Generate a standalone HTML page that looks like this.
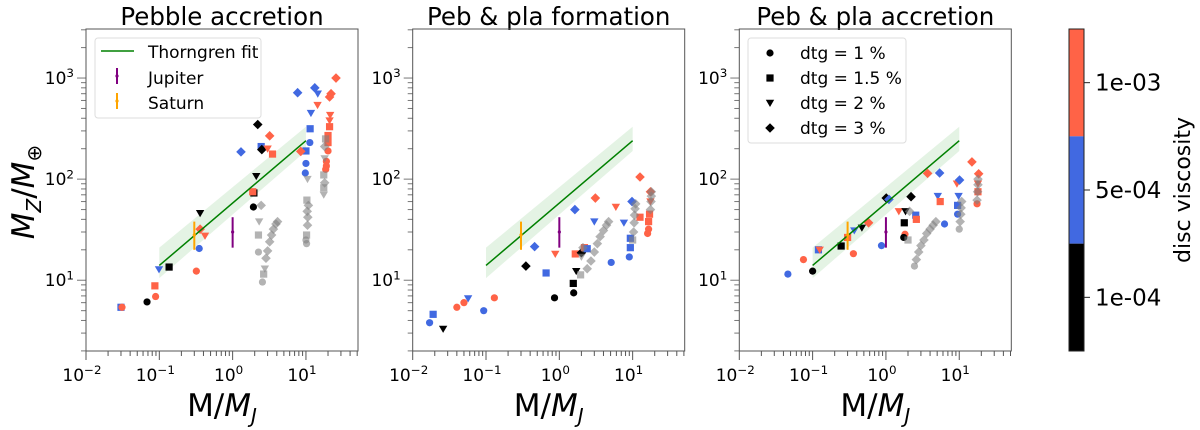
<!DOCTYPE html>
<html><head><meta charset="utf-8"><style>
html,body{margin:0;padding:0;background:#fff;}
svg{display:block;font-family:"DejaVu Sans","Liberation Sans",sans-serif;}
</style></head><body>
<svg id="fig" width="1200" height="430" viewBox="0 0 1200 430"></svg>
<script>
// ---- data ----
const panelTitles = ["Pebble accretion", "Peb & pla formation", "Peb & pla accretion"];
const xTickLabels = ["-2", "-1", "0", "1"];
const yTickLabels = ["1", "2", "3"];
const fitMass = [0.1, 10];
const fitMz = [14, 240];
const fitLow = [10.5, 190];
const fitHigh = [21, 330];
const jupiter = [1, 30, 21, 42];
const saturn = [0.3, 28, 20, 38];
// points: [mass, Mz, shape(c,s,t,d), color(k,b,r,g)]
const panel1Points = [
 [0.030,5.4,"s","b"],[0.031,5.4,"c","r"],[0.068,6.1,"c","k"],[0.089,6.9,"c","r"],[0.087,8.8,"s","r"],
 [0.099,12.8,"t","b"],[0.136,13.5,"s","k"],[0.32,12.3,"c","r"],[0.35,20.6,"c","b"],[0.36,32,"d","r"],
 [0.42,27.5,"t","r"],[0.36,46,"t","k"],[1.92,53,"c","k"],[1.95,73,"s","k"],[1.88,75,"s","r"],
 [2.1,107,"t","k"],[1.3,186,"d","b"],[2.2,347,"d","k"],[2.45,210,"s","b"],[2.5,196,"d","k"],
 [3.5,177,"s","r"],[3.2,268,"d","r"],[3.0,200,"t","r"],[7.7,716,"d","b"],[13.2,800,"d","b"],
 [14.5,700,"t","b"],[14.4,540,"t","r"],[11.7,450,"t","b"],[11.4,315,"s","b"],[11.3,230,"c","b"],
 [10,190,"s","b"],[10,143,"c","b"],[9.8,115,"c","b"],[8.5,188,"d","r"],
 [25.7,1000,"d","r"],[22,700,"d","r"],[21,650,"d","r"],[21.4,430,"t","r"],[21,380,"t","r"],
 [21,330,"s","r"],[20,270,"s","r"],[20,230,"s","r"],[20,190,"c","r"],[19,150,"c","r"],[19,135,"c","r"],[18.6,125,"c","r"],
 [2.55,9.6,"c","g"],[2.65,11.5,"s","g"],[2.25,19,"c","g"],[2.25,28,"s","g"],[2.3,38,"t","g"],[2.45,55,"d","g"],
 [2.75,13,"t","g"],[2.85,16.5,"d","g"],[3.0,19.5,"d","g"],[3.2,24,"d","g"],[3.4,28,"d","g"],[3.6,32,"d","g"],[3.9,36,"d","g"],[4.1,38,"d","g"],
 [10,25,"c","g"],[10.2,28,"s","g"],[10.5,35,"d","g"],[10.6,42,"d","g"],[10.4,48,"d","g"],[10.8,55,"d","g"],[10.3,62,"s","g"],[10.5,100,"t","g"],[10.2,23,"c","g"],
 [17.5,70,"t","g"],[17.5,82,"s","g"],[18,92,"d","g"],[17.5,110,"s","g"],[18,160,"t","g"],[18,210,"d","g"],[18.5,250,"s","g"]
];
const panel2Points = [
 [0.017,3.8,"c","b"],[0.019,4.6,"s","b"],[0.026,3.3,"t","k"],[0.040,5.4,"c","r"],[0.050,6.0,"c","r"],
 [0.057,6.6,"t","b"],[0.093,5.0,"c","b"],[0.13,6.7,"c","r"],[0.35,13.8,"d","k"],[0.46,21.5,"d","b"],
 [0.66,11.8,"s","b"],[0.86,6.7,"c","k"],[0.88,18.2,"t","r"],[1.55,9.3,"s","k"],[1.57,7.5,"c","k"],
 [1.7,12.3,"t","k"],[1.65,18.2,"s","r"],[2.0,18.7,"d","k"],[2.2,21,"s","r"],[2.4,20.5,"s","b"],
 [1.63,50,"d","b"],[3.1,65,"d","r"],[3.0,38,"t","b"],[5.9,53,"t","r"],[5.1,15,"c","b"],[7.6,37,"t","b"],
 [9.8,60,"d","b"],[9.3,26,"s","b"],[9.3,21,"s","b"],[9.0,17,"c","b"],[12.6,105,"d","r"],[12.6,42,"s","r"],
 [17.5,75,"d","r"],[17.5,60,"t","r"],[17,45,"s","r"],[16.5,38,"s","r"],[16.5,32,"c","r"],[16,29,"c","r"],
 [1.95,11.3,"s","g"],[2.1,21,"d","g"],[2.0,17,"t","g"],[2.4,13,"d","g"],[2.7,15.5,"d","g"],[3.0,19,"d","g"],
 [3.3,23,"d","g"],[3.6,27,"d","g"],[4.0,31,"d","g"],[4.4,35,"d","g"],[4.7,38,"d","g"],
 [10,25,"s","g"],[10.3,30,"d","g"],[10.5,37,"d","g"],[10.6,44,"d","g"],[10.8,51,"d","g"],[11,57,"d","g"],
 [17.5,50,"d","g"],[17.8,60,"d","g"],[18,68,"d","g"],[18,75,"d","g"]
];
const panel3Points = [
 [0.046,11.5,"c","b"],[0.075,16,"c","r"],[0.10,12.3,"c","k"],[0.12,20,"s","b"],[0.125,20,"t","r"],
 [0.245,21.8,"s","k"],[0.30,26.5,"s","r"],[0.36,18.3,"c","r"],[0.37,31,"t","b"],[0.47,33,"t","k"],
 [0.58,37,"d","r"],[0.87,22,"c","b"],[1.01,65,"d","k"],[1.1,63,"d","b"],[1.5,48,"t","r"],
 [1.85,48,"t","k"],[1.78,37,"s","k"],[1.82,28.5,"c","r"],[1.75,26.5,"c","k"],[2.2,67,"d","k"],
 [2.55,44,"s","b"],[2.6,40,"s","r"],[3.7,114,"d","r"],[5.4,115,"d","b"],[5.1,68,"t","b"],[5.5,60,"s","r"],
 [6.3,36,"c","b"],[9.3,90,"t","r"],[10.1,98,"d","b"],[9.8,68,"t","b"],[9.5,55,"s","b"],[9.5,45,"c","b"],
 [14.9,148,"d","r"],[18.4,113,"d","r"],[18,90,"t","r"],[18,75,"s","r"],[17.5,57,"c","r"],
 [2.0,25,"s","g"],[2.1,48,"d","g"],[2.45,13.8,"c","g"],[2.6,16,"d","g"],[2.8,19,"d","g"],[3.0,22,"d","g"],
 [3.3,25,"d","g"],[3.6,29,"d","g"],[4.0,32,"d","g"],[4.4,35,"d","g"],[4.8,38,"d","g"],
 [10,32,"c","g"],[10.3,38,"d","g"],[10.5,45,"d","g"],[10.6,52,"d","g"],[10.8,60,"d","g"],
 [17.5,62,"d","g"],[17.8,75,"d","g"],[18,88,"d","g"],[18,100,"d","g"]
];
const cbLabels = ["1e-03", "5e-04", "1e-04"];
const cbColors = ["#ff6347", "#4169e1", "#000000"];

// ---- layout ----
const NS = "http://www.w3.org/2000/svg";
const svg = document.getElementById("fig");
const lefts = [86, 412.7, 739.3];
const W = 272, TOP = 29, BOT = 351;
const XMIN = -2, XMAX = 1.71, YMIN = 0.30, YMAX = 3.485;
const colorMap = {k:"#000000", b:"#4169e1", r:"#ff6347", g:"#808080"};
function mk(tag, attrs, parent){ const e=document.createElementNS(NS,tag); for(const k in attrs) e.setAttribute(k,attrs[k]); (parent||svg).appendChild(e); return e; }
function xs(L, m){ return L + (Math.log10(m)-XMIN)/(XMAX-XMIN)*W; }
function ys(v){ return BOT - (Math.log10(v)-YMIN)/(YMAX-YMIN)*(BOT-TOP); }
function marker(g, shape, x, y, col, op){
  let e;
  if(shape==="c") e=mk("circle",{cx:x,cy:y,r:3.6,fill:col},g);
  else if(shape==="s") e=mk("rect",{x:x-3.6,y:y-3.6,width:7.2,height:7.2,fill:col},g);
  else if(shape==="t") e=mk("polygon",{points:`${x-4.2},${y-3.2} ${x+4.2},${y-3.2} ${x},${y+4}`,fill:col},g);
  else e=mk("polygon",{points:`${x},${y-4.8} ${x+4.8},${y} ${x},${y+4.8} ${x-4.8},${y}`,fill:col},g);
  if(op) e.setAttribute("fill-opacity",op);
  return e;
}
function supLabel(g, x, y, base, exp, anchor, size){
  const t=mk("text",{x:x,y:y,"font-size":size,"text-anchor":anchor,fill:"#000"},g);
  t.appendChild(document.createTextNode(base));
  const s=mk("tspan",{"font-size":size*0.7,dy:-size*0.4},t); s.textContent=exp;
  return t;
}
const allPoints=[panel1Points,panel2Points,panel3Points];
for(let p=0;p<3;p++){
  const L=lefts[p];
  const g=mk("g",{});
  
  
  const title=mk("text",{x:L+W/2,y:25,"font-size":24.5,"text-anchor":"middle"},g);
  title.textContent=panelTitles[p];
  
  
  for(let d=-2; d<=1; d++){
    for(let k=1;k<=9;k++){
      const v=k*Math.pow(10,d); const lv=Math.log10(v); if(lv>XMAX) continue;
      const x=xs(L,v);
      mk("line",{x1:x,x2:x,y1:BOT,y2:BOT+(k===1?9:5),stroke:"#555","stroke-width":1},g);
    }
  }
  xTickLabels.forEach((e,i)=>{ const lab=supLabel(g, xs(L,Math.pow(10,+e))-4, BOT+30, "10", e.replace("-","−"), "middle", 17);
      });
  for(let d=0; d<=3; d++){
    for(let k=1;k<=9;k++){
      const v=k*Math.pow(10,d); const lv=Math.log10(v); if(lv<YMIN||lv>YMAX) continue;
      const y=ys(v);
      mk("line",{x1:L,x2:L-(k===1?9:5),y1:y,y2:y,stroke:"#777","stroke-width":1},g);
    }
  }
  yTickLabels.forEach(e=>{ const lab=supLabel(g, L-12, ys(Math.pow(10,+e))+6, "10", e, "end", 17);
      });
  const xl=mk("text",{x:L+W/2,y:416,"font-size":31,"text-anchor":"middle"},g);
  xl.innerHTML='M/<tspan font-style="italic">M</tspan><tspan font-style="italic" font-size="20" dy="7">J</tspan>';
   
  const band=mk("polygon",{points:`${xs(L,fitMass[0])},${ys(fitLow[0])} ${xs(L,fitMass[1])},${ys(fitLow[1])} ${xs(L,fitMass[1])},${ys(fitHigh[1])} ${xs(L,fitMass[0])},${ys(fitHigh[0])}`,fill:"#2ca02c","fill-opacity":0.13},g);
   
  allPoints[p].forEach(pt=>{
    const m=marker(g, pt[2], xs(L,pt[0]), ys(pt[1]), colorMap[pt[3]], pt[3]==="g"?0.6:null);
    
    
  });
  const fl=mk("line",{x1:xs(L,fitMass[0]),y1:ys(fitMz[0]),x2:xs(L,fitMass[1]),y2:ys(fitMz[1]),stroke:"#008000","stroke-width":1.5},g);
   
  [[jupiter,"#800080","jupiter-marker"],[saturn,"#ffa500","saturn-marker"]].forEach(([d,c,n])=>{
    const gg=mk("g",{},g);
     
    const x=xs(L,d[0]);
    mk("line",{x1:x,x2:x,y1:ys(d[2]),y2:ys(d[3]),stroke:c,"stroke-width":2},gg);
    mk("circle",{cx:x,cy:ys(d[1]),r:1.6,fill:c},gg);
  });
  const fr=mk("rect",{x:L,y:TOP,width:W,height:BOT-TOP,fill:"none",stroke:"#555","stroke-width":1},g);
   
}
const yl=mk("text",{transform:"translate(34,192) rotate(-90)","font-size":31,"text-anchor":"middle","font-style":"italic"});
yl.innerHTML='M<tspan font-size="20" dy="7">Z</tspan><tspan dy="-7" font-style="normal">/</tspan>M<tspan font-size="20" dy="7" font-style="normal">⊕</tspan>';
 
const lg1=mk("g",{});
 
mk("rect",{x:95,y:38,width:166,height:80,rx:3,fill:"#fff","fill-opacity":0.85,stroke:"#ddd"},lg1);
mk("line",{x1:101,x2:134,y1:51,y2:51,stroke:"#008000","stroke-width":1.5},lg1);
mk("line",{x1:117,x2:117,y1:68,y2:84,stroke:"#800080","stroke-width":2},lg1);
mk("circle",{cx:117,cy:76,r:1.6,fill:"#800080"},lg1);
mk("line",{x1:117,x2:117,y1:93,y2:109,stroke:"#ffa500","stroke-width":2},lg1);
mk("circle",{cx:117,cy:101,r:1.6,fill:"#ffa500"},lg1);
[["Thorngren fit",58],["Jupiter",84],["Saturn",109]].forEach(([t,y])=>{const e=mk("text",{x:148,y:y,"font-size":17},lg1);e.textContent=t;
  });
const lg3=mk("g",{});
 
mk("rect",{x:748,y:38,width:158,height:105,rx:3,fill:"#fff","fill-opacity":0.85,stroke:"#ddd"},lg3);
[["c","dtg = 1 %",53],["s","dtg = 1.5 %",78],["t","dtg = 2 %",103],["d","dtg = 3 %",128]].forEach(([s,t,y])=>{
  marker(lg3,s,770,y,"#000",null);
  const e=mk("text",{x:800,y:y+6,"font-size":17},lg3);e.textContent=t;
   
});
const cb=mk("g",{});
 
const cbTop=29, cbH=322, seg=cbH/3;
cbColors.forEach((c,i)=>mk("rect",{x:1069,y:cbTop+i*seg,width:15,height:seg,fill:c},cb));
mk("rect",{x:1069,y:cbTop,width:15,height:cbH,fill:"none",stroke:"#222"},cb);
cbLabels.forEach((t,i)=>{ const y=cbTop+seg*i+seg/2;
  mk("line",{x1:1084,x2:1090,y1:y,y2:y,stroke:"#222"},cb);
  const e=mk("text",{x:1095,y:y+8,"font-size":23},cb); e.textContent=t;
   });
const cbt=mk("text",{transform:"translate(1190,190) rotate(-90)","font-size":22,"text-anchor":"middle"},cb);
cbt.textContent="disc viscosity";
 
</script>
</body></html>
